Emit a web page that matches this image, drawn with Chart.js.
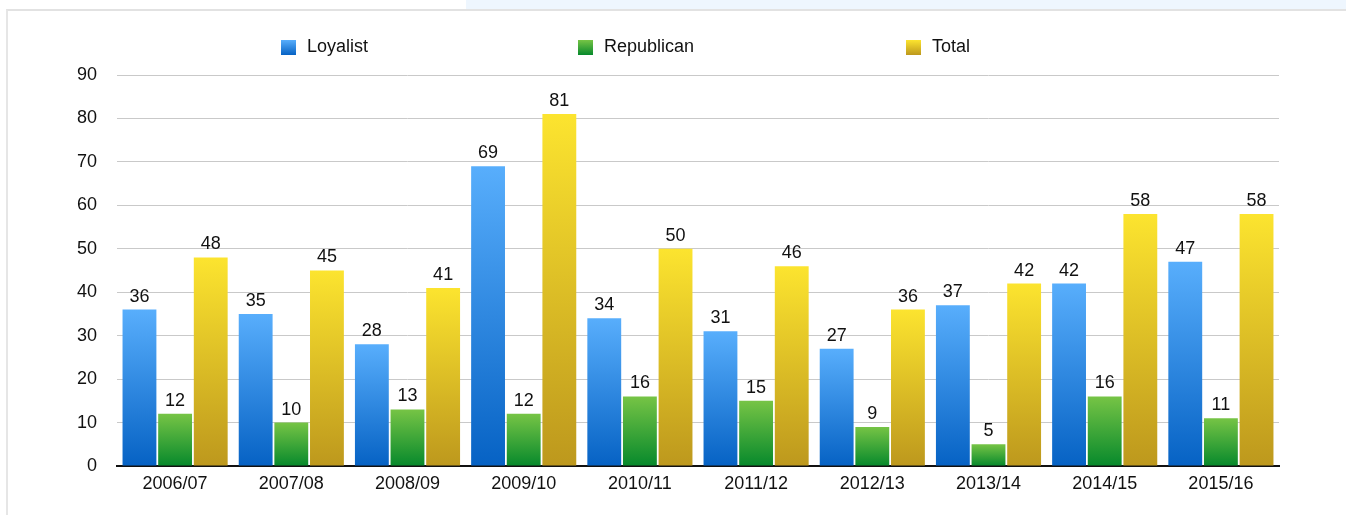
<!DOCTYPE html>
<html>
<head>
<meta charset="utf-8">
<script src="https://cdn.jsdelivr.net/npm/chart.js@4.4.1/dist/chart.umd.min.js"></script>
<style>
  html, body { margin: 0; padding: 0; background: #fff; }
  #page { position: relative; width: 1346px; height: 515px; overflow: hidden; }
  #topband { position: absolute; left: 466px; top: 0; width: 880px; height: 9px; background: #eef6fe; }
  #frame { position: absolute; left: 6px; top: 9px; width: 1340px; height: 506px;
           border-top: 2px solid #e2e2e2; border-left: 2px solid #e6e6e6; box-sizing: border-box; }
  #wrap { position: absolute; left: 0; top: 0; width: 1346px; height: 515px; }
</style>
</head>
<body>
<div id="page">
  <div id="topband"></div>
  <div id="frame"></div>
  <div id="wrap"><canvas id="reportChart"></canvas></div>
</div>
<script>
const categories = ['2006/07', '2007/08', '2008/09', '2009/10', '2010/11', '2011/12', '2012/13', '2013/14', '2014/15', '2015/16']
const loyalist = [36, 35, 28, 69, 34, 31, 27, 37, 42, 47]
const republican = [12, 10, 13, 12, 16, 15, 9, 5, 16, 11]
const total = [48, 45, 41, 81, 50, 46, 36, 42, 58, 58]
const yTicks = [0, 10, 20, 30, 40, 50, 60, 70, 80, 90]

const FONT = '"Liberation Sans", Arial, Helvetica, sans-serif'

// top / bottom gradient colours for each series
const shades = {
  Loyalist: ['#58aefc', '#0662c4'],
  Republican: ['#76c445', '#07892c'],
  Total: ['#fce42f', '#bd981d']
}

function barFill(name) {
  return function (context) {
    const chart = context.chart
    const { ctx, chartArea, scales } = chart
    if (!chartArea || context.raw === undefined) return shades[name][1]
    const top = scales.y.getPixelForValue(context.raw)
    const bottom = scales.y.getPixelForValue(0)
    const g = ctx.createLinearGradient(0, top, 0, bottom)
    g.addColorStop(0, shades[name][0])
    g.addColorStop(1, shades[name][1])
    return g
  }
}

// values drawn above each bar
const valueLabels = {
  id: 'valueLabels',
  afterDatasetsDraw(chart) {
    const ctx = chart.ctx
    ctx.save()
    ctx.font = '18px ' + FONT
    ctx.fillStyle = '#111'
    ctx.textAlign = 'center'
    ctx.textBaseline = 'bottom'
    chart.data.datasets.forEach((ds, i) => {
      chart.getDatasetMeta(i).data.forEach((bar, j) => {
        ctx.fillText(String(ds.data[j]), bar.x, bar.y - 4)
      })
    })
    ctx.restore()
  }
}

// legend row, items at fixed x like the original
const legendX = [281, 578, 906]
const legendRow = {
  id: 'legendRow',
  afterDraw(chart) {
    const ctx = chart.ctx
    ctx.save()
    ctx.font = '18px ' + FONT
    ctx.textBaseline = 'middle'
    const y = 47
    chart.data.datasets.forEach((ds, i) => {
      const x = legendX[i]
      const c = shades[ds.label]
      const g = ctx.createLinearGradient(0, y - 7, 0, y + 8)
      g.addColorStop(0, c[0])
      g.addColorStop(1, c[1])
      ctx.fillStyle = g
      ctx.fillRect(x, y - 7, 15, 15)
      ctx.fillStyle = '#111'
      ctx.textAlign = 'left'
      ctx.fillText(ds.label, x + 26, y)
    })
    ctx.restore()
  }
}

const canvas = document.getElementById('reportChart')
new Chart(canvas.getContext('2d'), {
  type: 'bar',
  data: {
    labels: categories,
    datasets: [
      { label: 'Loyalist', data: loyalist, backgroundColor: barFill('Loyalist') },
      { label: 'Republican', data: republican, backgroundColor: barFill('Republican') },
      { label: 'Total', data: total, backgroundColor: barFill('Total') }
    ]
  },
  options: {
    responsive: true,
    maintainAspectRatio: false,
    animation: false,
    events: [],
    datasets: {
      bar: { categoryPercentage: 0.92, barPercentage: 0.95, borderWidth: 0 }
    },
    layout: { padding: { left: 0, right: 67, top: 75, bottom: 0 } },
    plugins: {
      legend: { display: false },
      tooltip: { enabled: false }
    },
    scales: {
      x: {
        grid: { display: false, drawTicks: false },
        border: { display: true, color: '#111', width: 2 },
        ticks: { color: '#111', font: { family: FONT, size: 18 }, padding: 7, maxRotation: 0 },
        afterFit(s) { s.height = 49 }
      },
      y: {
        min: 0,
        max: 90,
        afterBuildTicks(s) { s.ticks = yTicks.map(v => ({ value: v })) },
        grid: { color: '#c9c9c9', lineWidth: 1, drawTicks: false },
        border: { display: false },
        ticks: { color: '#111', font: { family: FONT, size: 18 }, padding: 20 },
        afterFit(s) { s.width = 117 }
      }
    }
  },
  plugins: [valueLabels, legendRow]
})
</script>
</body>
</html>
